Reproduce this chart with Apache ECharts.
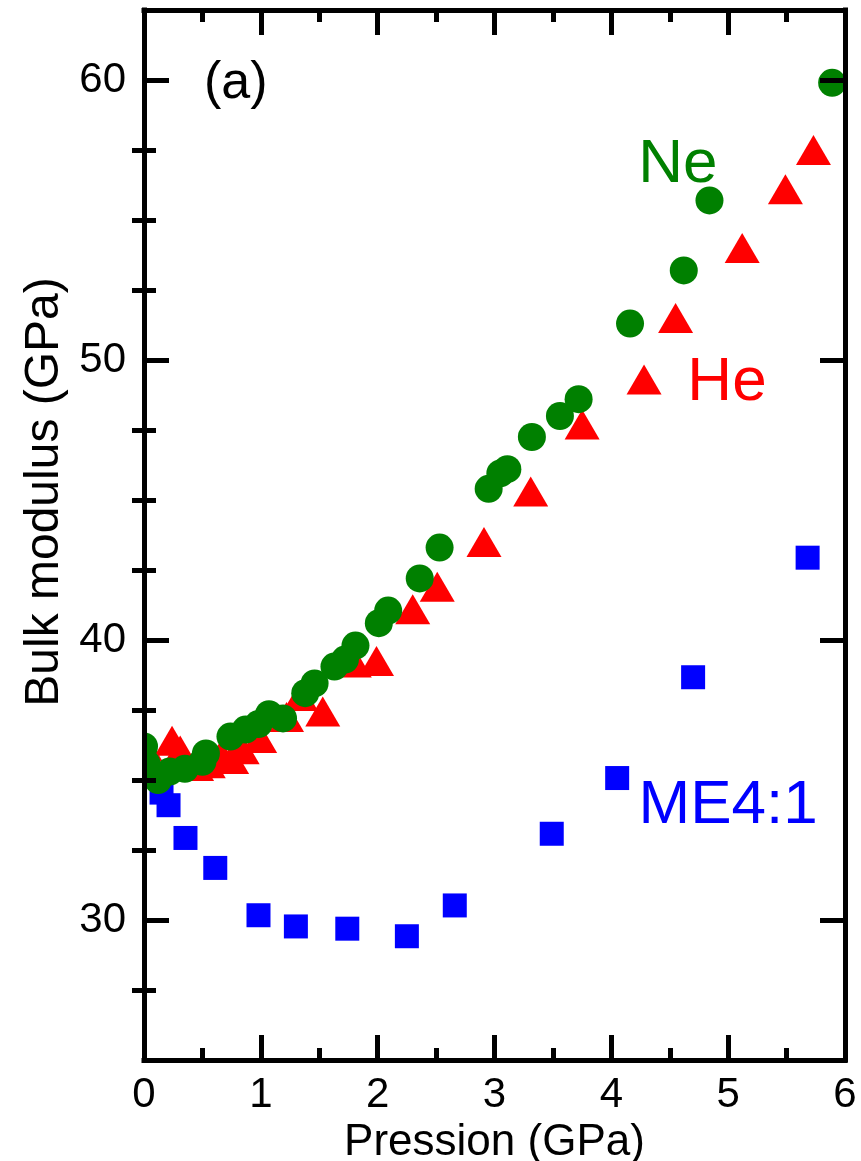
<!DOCTYPE html>
<html>
<head>
<meta charset="utf-8">
<title>Bulk modulus vs pressure</title>
<script src="https://cdn.jsdelivr.net/npm/echarts@6/dist/echarts.min.js"></script>
<style>
  html, body { margin: 0; padding: 0; background: #ffffff; }
  #chart { width: 861px; height: 1161px; }
</style>
</head>
<body>
<div id="chart"></div>
<script>
// Pressure (GPa) and bulk modulus (GPa) for each pressure medium
const neonPressure = [0.0, 0.02, 0.12, 0.22, 0.35, 0.5, 0.53, 0.74, 0.87, 0.98, 1.07, 1.19, 1.38, 1.46, 1.63, 1.72, 1.81, 2.01, 2.09, 2.36, 2.53, 2.95, 3.05, 3.11, 3.32, 3.56, 3.72, 4.16, 4.62, 4.84, 5.89];
const neonModulus  = [36.2, 35.6, 35.0, 35.3, 35.4, 35.65, 35.95, 36.55, 36.8, 37.0, 37.35, 37.2, 38.1, 38.45, 39.05, 39.3, 39.8, 40.6, 41.05, 42.2, 43.3, 45.4, 45.95, 46.1, 47.25, 48.0, 48.6, 51.3, 53.2, 55.7, 59.9];

const heliumPressure = [0.01, 0.24, 0.31, 0.45, 0.55, 0.66, 0.75, 0.84, 0.99, 1.22, 1.34, 1.53, 1.8, 1.99, 2.30, 2.51, 2.91, 3.31, 3.75, 4.28, 4.55, 5.12, 5.49, 5.73];
const heliumModulus  = [36.2, 36.4, 36.05, 35.5, 35.6, 35.9, 35.75, 36.1, 36.5, 37.25, 38.0, 37.45, 39.2, 39.25, 41.1, 41.9, 43.5, 45.3, 47.7, 49.3, 51.5, 54.0, 56.1, 57.5];

const me41Pressure = [0.15, 0.21, 0.355, 0.61, 0.98, 1.30, 1.74, 2.25, 2.66, 3.49, 4.05, 4.70, 5.68];
const me41Modulus  = [34.55, 34.1, 32.93, 31.86, 30.17, 29.77, 29.69, 29.42, 30.52, 33.08, 35.07, 38.67, 42.94];

// Axis ranges and tick values
const pressureRange = [0, 6];
const modulusRange = [25, 62.5];
const modulusMajorTicks = [30, 40, 50, 60];
const modulusMinorTicks = [27.5, 32.5, 35, 37.5, 42.5, 45, 47.5, 52.5, 55, 57.5];

const FONT = '"Liberation Sans", Arial, Helvetica, sans-serif';
const zip = (xs, ys) => xs.map((x, i) => [x, ys[i]]);

const frame = { show: true, onZero: false, lineStyle: { color: '#000', width: 5, cap: 'square' } };

function xAxisDef(position, withLabels) {
  return {
    type: 'value', position, min: pressureRange[0], max: pressureRange[1], interval: 1,
    z: 10,
    axisLine: frame,
    axisTick: { show: true, inside: true, length: 25, lineStyle: { color: '#000', width: 5 } },
    minorTick: { show: true, splitNumber: 2, length: 12, lineStyle: { color: '#000', width: 5 } },
    axisLabel: withLabels
      ? { show: true, margin: 14, fontFamily: FONT, fontSize: 42, color: '#000' }
      : { show: false },
    splitLine: { show: false },
    name: withLabels ? 'Pression (GPa)' : '',
    nameLocation: 'middle', nameGap: 59,
    nameTextStyle: { fontFamily: FONT, fontSize: 44, color: '#000' }
  };
}

function yAxisDef(position, ticks, tickLength, withLabels, withLine) {
  return {
    type: 'value', position, min: modulusRange[0], max: modulusRange[1],
    z: 10,
    axisLine: withLine ? frame : { show: false },
    axisTick: { show: true, inside: true, length: tickLength, customValues: ticks,
                lineStyle: { color: '#000', width: 5 } },
    axisLabel: withLabels
      ? { show: true, customValues: modulusMajorTicks, margin: 18, fontFamily: FONT, fontSize: 42, color: '#000' }
      : { show: false },
    splitLine: { show: false },
    name: withLabels ? 'Bulk modulus (GPa)' : '',
    nameLocation: 'middle', nameGap: 75,
    nameTextStyle: { fontFamily: FONT, fontSize: 48, color: '#000', padding: [0, 0, 0, 86] }
  };
}

const chart = echarts.init(document.getElementById('chart'), null, { renderer: 'canvas' });

chart.setOption({
  animation: false,
  backgroundColor: '#ffffff',
  grid: { left: 144, right: 16, top: 10, bottom: 101, containLabel: false, outerBoundsMode: 'none' },
  xAxis: [xAxisDef('bottom', true), xAxisDef('top', false)],
  yAxis: [
    yAxisDef('left', modulusMajorTicks, 25, true, true),
    yAxisDef('left', modulusMinorTicks, 12, false, false),
    yAxisDef('right', modulusMajorTicks, 25, false, true),
    yAxisDef('right', modulusMinorTicks, 12, false, false)
  ],
  series: [
    {
      name: 'ME4:1', type: 'scatter', xAxisIndex: 0, yAxisIndex: 0,
      symbol: 'rect', symbolSize: 24,
      itemStyle: { color: '#0000ff', opacity: 1 },
      data: zip(me41Pressure, me41Modulus)
    },
    {
      name: 'He', type: 'scatter', xAxisIndex: 0, yAxisIndex: 0,
      symbol: 'triangle', symbolSize: [35, 30],
      itemStyle: { color: '#ff0000', opacity: 1 },
      data: zip(heliumPressure, heliumModulus)
    },
    {
      name: 'Ne', type: 'scatter', xAxisIndex: 0, yAxisIndex: 0,
      symbol: 'circle', symbolSize: 28,
      itemStyle: { color: '#008000', opacity: 1 },
      data: zip(neonPressure, neonModulus)
    }
  ]
});

// In-plot annotations, anchored in data coordinates
const annotations = [
  { text: '(a)',   at: [0.785, 59.86], color: '#000000', size: 52 },
  { text: 'Ne',    at: [4.57, 56.96],  color: '#008000', size: 62 },
  { text: 'He',    at: [4.99, 49.18],  color: '#ff0000', size: 62 },
  { text: 'ME4:1', at: [5.0, 34.09],   color: '#0000ff', size: 62 }
];

// Plot-area corners in pixels, used to mask symbols spilling past the left frame
const topLeft = chart.convertToPixel({ xAxisIndex: 0, yAxisIndex: 0 }, [pressureRange[0], modulusRange[1]]);
const bottomLeft = chart.convertToPixel({ xAxisIndex: 0, yAxisIndex: 0 }, [pressureRange[0], modulusRange[0]]);

chart.setOption({
  graphic: [
    {
      type: 'rect', z: 5, silent: true,
      shape: { x: topLeft[0] - 20, y: topLeft[1], width: 20, height: bottomLeft[1] - topLeft[1] },
      style: { fill: '#ffffff' }
    }
  ].concat(annotations.map(a => {
    const p = chart.convertToPixel({ xAxisIndex: 0, yAxisIndex: 0 }, a.at);
    return {
      type: 'text', x: p[0], y: p[1], z: 20,
      style: { text: a.text, fill: a.color, font: `${a.size}px ${FONT}`,
               align: 'center', verticalAlign: 'middle' }
    };
  }))
});
</script>
</body>
</html>
